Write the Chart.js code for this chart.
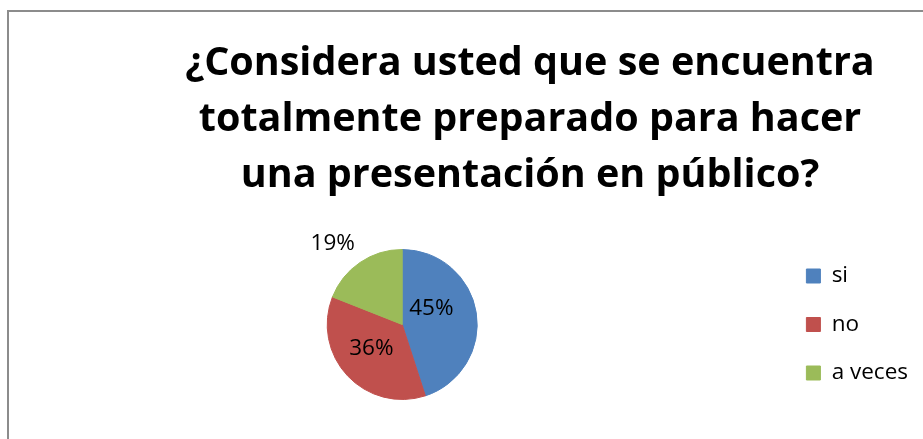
<!DOCTYPE html>
<html>
<head>
<meta charset="utf-8">
<script src="https://cdn.jsdelivr.net/npm/chart.js@4.4.0/dist/chart.umd.min.js"></script>
<style>
  html, body { margin: 0; padding: 0; background: #fff; }
  #frame { position: absolute; left: 7px; top: 10px; width: 1000px; height: 500px;
           border-left: 2px solid #8c8c8c; border-top: 2px solid #8c8c8c; }
  #wrap { position: absolute; left: 0; top: 0; width: 923px; height: 439px; }
</style>
</head>
<body>
<div id="frame"></div>
<div id="wrap"><canvas id="chart"></canvas></div>
<script>
const titleLines = [
  '¿Considera usted que se encuentra',
  'totalmente preparado para hacer',
  'una presentación en público?'
];
const categories = ['si', 'no', 'a veces'];
const shares = [45, 36, 19];
const sliceColors = ['#4F81BD', '#C0504D', '#9BBB59'];

// title drawn by hand so it can sit off-centre like the original
const blockTitle = {
  id: 'blockTitle',
  afterDraw(chart, args, opts) {
    const ctx = chart.ctx;
    ctx.save();
    ctx.font = opts.font;
    ctx.fillStyle = '#000';
    ctx.textAlign = 'center';
    ctx.textBaseline = 'alphabetic';
    titleLines.forEach((t, i) => ctx.fillText(t, opts.x, opts.y + i * opts.lineHeight));
    ctx.restore();
  }
};

// percent labels, nudged per slice the way Excel's best fit puts them
const sliceLabels = {
  id: 'sliceLabels',
  afterDatasetsDraw(chart, args, opts) {
    const ctx = chart.ctx;
    const meta = chart.getDatasetMeta(0);
    ctx.save();
    ctx.font = opts.font;
    ctx.fillStyle = '#000';
    ctx.textAlign = 'center';
    ctx.textBaseline = 'middle';
    meta.data.forEach((arc, i) => {
      const p = arc.getProps(['x', 'y', 'startAngle', 'endAngle', 'outerRadius'], true);
      const a = (p.startAngle + p.endAngle) / 2 + opts.turn[i] * Math.PI / 180;
      const r = p.outerRadius * opts.dist[i];
      ctx.fillText(shares[i] + '%', p.x + Math.cos(a) * r, p.y + Math.sin(a) * r);
    });
    ctx.restore();
  }
};

const chart = new Chart(document.getElementById('chart'), {
  type: 'pie',
  data: {
    labels: categories,
    datasets: [{
      data: shares,
      backgroundColor: sliceColors,
      borderColor: sliceColors,
      borderWidth: 1
    }]
  },
  options: {
    responsive: true,
    maintainAspectRatio: false,
    animation: false,
    radius: 75,
    layout: { padding: { top: 210, bottom: 0, left: 24, right: 5 } },
    plugins: {
      tooltip: { enabled: false },
      legend: {
        position: 'right',
        align: 'center',
        labels: {
          boxWidth: 14,
          boxHeight: 14,
          padding: 26,
          color: '#000',
          font: { family: '"Open Sans"', size: 22.5 }
        }
      },
      blockTitle: { x: 530, y: 75, lineHeight: 56, font: 'bold 39.5px "Open Sans"' },
      sliceLabels: {
        font: '22.5px "Open Sans"',
        turn: [-19.7, 5.3, -6.4],
        dist: [0.444, 0.52, 1.423]
      }
    }
  },
  plugins: [blockTitle, sliceLabels]
});
</script>
</body>
</html>
